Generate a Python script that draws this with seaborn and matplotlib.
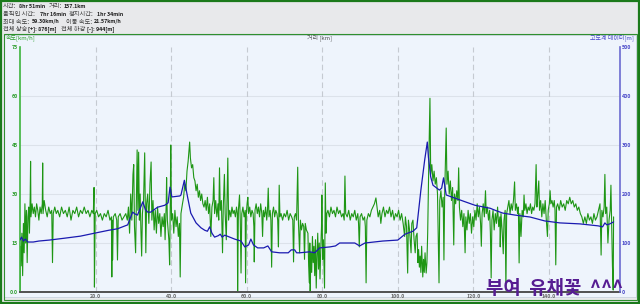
import matplotlib
matplotlib.use('Agg')
import matplotlib.pyplot as plt
import seaborn as sns
import pandas as pd
from matplotlib.patches import Rectangle

# ---------------- data ----------------
speed_dist_km = [
    0.0, 0.1, 0.3, 0.5, 0.7, 0.9, 1.1, 1.3, 1.5, 1.7, 1.9, 2.1, 2.3, 2.5, 2.7, 2.8, 2.9, 3.2, 3.5, 3.8,
    4.1, 4.4, 4.7, 5.0, 5.3, 5.6, 5.9, 6.0, 6.1, 6.4, 6.8, 7.2, 7.6, 8.0, 8.4, 8.6, 8.8, 9.2, 9.6, 10.0,
    10.5, 11.0, 11.5, 12.0, 12.5, 13.0, 13.5, 14.0, 14.5, 15.0, 15.5, 16.0, 16.5, 17.0, 17.5, 18.0, 18.5, 19.0, 19.4, 19.6, 19.7, 19.9,
    20.3, 20.8, 21.3, 21.8, 22.3, 22.8, 23.3, 23.8, 24.2, 24.3, 24.4, 24.5, 24.7, 25.2, 25.6, 25.8, 26.0, 26.5, 27.0, 27.5, 28.0, 28.4,
    28.7, 29.0, 29.3, 29.6, 29.9, 30.1, 30.3, 30.6, 30.8, 31.0, 31.2, 31.4, 31.6, 31.8, 32.0, 32.2, 32.4, 32.7, 33.0, 33.2, 33.3, 33.5,
    33.8, 34.1, 34.4, 34.7, 34.9, 35.2, 35.5, 35.8, 36.1, 36.4, 36.7, 37.0, 37.3, 37.6, 37.9, 38.2, 38.4, 38.7, 38.8, 39.0, 39.4, 39.6, 39.8, 39.9, 40.1,
    40.4, 40.7, 41.0, 41.3, 41.6, 41.9, 42.2, 42.4, 42.6, 43.0, 43.3, 43.6, 43.9, 44.2, 44.5, 44.7, 44.9, 45.1,
    45.4, 45.7, 46.0, 46.3, 46.6, 46.9, 47.2, 47.5, 47.8, 48.1, 48.4, 48.7, 49.0,
    49.3, 49.6, 49.9, 50.2, 50.5, 50.8, 51.1, 51.3, 51.5, 51.8, 52.1, 52.4, 52.6, 52.8, 53.0, 53.3, 53.6, 53.8, 54.1, 54.3, 54.6, 54.8, 55.0, 55.2, 55.5, 55.8, 56.1, 56.4, 56.7, 57.0, 57.3,
    57.5, 57.6, 57.8, 58.1, 58.3, 58.5, 58.7, 59.0, 59.3, 59.6, 59.7, 59.9, 60.1, 60.3, 60.5, 60.8, 61.1, 61.4, 61.7, 61.9, 62.0, 62.2, 62.5, 62.8,
    63.1, 63.4, 63.7, 64.0, 64.2, 64.4, 64.7, 65.0, 65.3, 65.5, 65.7, 65.9, 66.2, 66.4, 66.6, 66.8, 67.1, 67.4, 67.7, 68.0, 68.2, 68.4, 68.5, 68.6, 68.8,
    69.1, 69.5, 69.9, 70.3, 70.7, 71.1, 71.5, 71.9, 72.2, 72.4, 72.6, 72.9, 73.2, 73.5, 73.7, 74.0, 74.2, 74.5, 74.8, 75.1, 75.3, 75.5, 75.8,
    76.2, 76.4, 76.6, 76.7, 76.8, 77.0, 77.2, 77.4, 77.6, 77.8, 78.0, 78.2, 78.4, 78.6, 78.8, 79.0, 79.2, 79.4, 79.6, 79.8, 79.9, 80.1, 80.3, 80.5, 80.6, 80.8, 81.0, 81.2,
    81.5, 81.9, 82.3, 82.7, 83.1, 83.5, 83.9, 84.3, 84.7, 85.1, 85.5, 85.8, 86.0, 86.2, 86.6, 87.0, 87.4, 87.8, 88.2, 88.6, 89.0, 89.4, 89.6, 89.8, 90.0,
    90.4, 90.8, 91.2, 91.4, 91.6, 91.8, 92.2, 92.6, 93.0, 93.4, 93.8, 94.2, 94.5, 94.8, 95.2, 95.5, 95.8,
    96.2, 96.6, 97.0, 97.4, 97.8, 98.2, 98.6, 99.0, 99.4, 99.8, 100.2, 100.6, 101.0, 101.4, 101.8, 102.0, 102.3, 102.6, 102.8, 103.1,
    103.5, 103.7, 104.0, 104.3, 104.6, 104.8, 105.1, 105.3, 105.5, 105.7, 105.9, 106.1, 106.3, 106.6, 106.8, 107.0, 107.2, 107.5, 107.7, 107.9,
    108.2, 108.5, 108.7, 109.0, 109.3, 109.6, 109.9, 110.2, 110.5, 110.9, 111.1, 111.4, 111.7, 112.0, 112.2, 112.4, 112.8, 113.0, 113.3, 113.6,
    113.9, 114.2, 114.5, 114.8, 115.0, 115.3, 115.6, 115.9, 116.1, 116.3,
    116.6, 116.9, 117.2, 117.5, 117.8, 118.0, 118.3, 118.6, 118.9, 119.2, 119.5, 119.8, 120.1, 120.4, 120.7, 121.0, 121.3, 121.6, 121.9, 122.1,
    122.3, 122.6, 122.9, 123.2, 123.4, 123.7, 124.0, 124.3, 124.5, 124.7, 124.9, 125.2, 125.5, 125.8, 126.1, 126.4, 126.7, 127.0, 127.1, 127.3,
    127.6, 127.9, 128.1, 128.4, 128.6, 128.8,
    129.1, 129.4, 129.7, 130.0, 130.3, 130.6, 130.9, 131.1, 131.4, 131.7, 131.9, 132.1, 132.3, 132.6, 132.9, 133.2, 133.4, 133.6, 133.9, 134.2,
    134.5, 134.8, 135.1, 135.4, 135.7, 136.0, 136.3, 136.6, 136.8, 137.0, 137.3, 137.5, 137.8, 138.1, 138.4, 138.7, 139.0, 139.3, 139.6, 139.8,
    140.1, 140.3, 140.5, 140.8, 141.1, 141.4, 141.6, 141.8, 142.0,
    142.3, 142.7, 143.1, 143.5, 143.9, 144.3, 144.7, 145.1, 145.5, 145.9, 146.3, 146.7, 147.1, 147.5, 147.9, 148.3, 148.7, 149.1, 149.5, 149.9,
    150.3, 150.7, 151.1, 151.5, 151.9, 152.3, 152.7, 153.1, 153.5, 153.8, 154.0, 154.3, 154.6, 154.8, 155.0, 155.3, 155.6, 155.9, 156.2, 156.4,
    156.6, 156.8, 157.0, 157.1,
]
speed_kmh = [
    0, 14, 8, 18, 5, 21, 12, 27, 15, 25, 9, 23, 26, 18, 29, 40, 23, 27, 24, 26,
    23, 27, 25, 22, 26, 24, 27, 39.5, 24, 28, 25, 23, 26, 24, 25, 9, 24, 26, 24, 25,
    23, 26, 24, 25, 23, 26, 22, 25, 24, 26, 23, 25, 24, 26, 24, 25, 23, 25, 24, 32, 1.5, 24,
    25, 23, 24, 22, 24, 23, 25, 22, 23, 4.6, 22, 9.8, 23, 24, 22, 9.8, 23, 24, 22, 23, 24, 22,
    26, 18, 30, 22, 36, 39, 20, 12, 28, 43.5, 25, 42.8, 22, 30, 19, 11, 24, 28, 42.6, 20, 12, 27,
    30, 21, 33, 39.8, 22, 28, 19, 25, 18, 26, 21, 24, 17, 23, 20, 24, 16, 27, 35, 22, 16, 8.3, 30, 45, 22,
    24, 18, 25, 20, 23, 17, 21, 4.6, 24, 27, 29, 33, 31, 37, 40, 43, 45.9, 41,
    38, 39, 35, 34, 31, 33, 29, 31, 28, 30, 27, 26, 28,
    25, 29, 24, 27, 17, 26, 28, 35, 24, 28, 23, 27, 22, 38, 25, 28, 12, 26, 36, 24, 16, 28, 41, 22, 25, 23, 26, 24, 25, 23, 26,
    24, 0, 25, 29.7, 22, 5.8, 24, 26, 23, 25, 2.8, 24, 27, 29, 24, 26, 23, 25, 24, 20, 9.2, 25, 27, 24,
    26, 23, 27, 24, 17, 25, 23, 26, 22, 25, 31.8, 23, 25, 22, 7.6, 24, 26, 23, 25, 24, 22, 13.8, 24, 32.7, 23,
    24, 22, 24, 23, 25, 22, 24, 23, 22, 9.2, 23, 24, 22, 38.2, 21, 12, 22, 19, 21, 20, 10, 21, 19,
    18, 8, 2.8, 15, 0, 12, 6, 17, 9, 14, 5, 16, 1.2, 11, 18, 7, 15, 4, 13, 20, 29.7, 10, 16, 6, 1.2, 33.4, 18, 24,
    25, 23, 26, 24, 25, 23, 26, 24, 25, 23, 24, 22, 35.5, 24, 23, 25, 22, 24, 23, 25, 22, 24, 21, 13.8, 23,
    24, 22, 23, 20, 2.8, 22, 24, 23, 25, 26, 27, 28.8, 26, 23, 25, 21, 24,
    26, 23, 25, 24, 26, 23, 25, 22, 24, 23, 25, 22, 24, 21, 17, 23, 20, 5.8, 22, 19,
    12, 21, 22, 16, 12, 17, 18, 9, 13, 7.6, 11, 6, 14, 4.6, 10, 6, 12, 5.8, 9, 18,
    40, 59.3, 36, 39, 34, 37, 33, 35, 30, 2.8, 28, 31, 26, 29, 9.8, 30, 50.2, 33, 37, 30,
    34, 28, 32, 14.4, 30, 27, 31, 28, 38, 26,
    22, 25, 20, 24, 12, 23, 19, 25, 21, 24, 18, 23, 20, 25, 22, 27, 23, 26, 21, 14,
    24, 27, 23, 31, 24, 26, 22, 25, 18, 4.3, 22, 25, 19, 24, 21, 26, 20, 23, 13.8, 24,
    19, 11.7, 22, 25, 0.6, 24,
    26, 28, 24, 27, 25, 28, 33.7, 25, 27, 24, 26, 8.9, 24, 17, 25, 23, 29.7, 25, 27, 24,
    26, 25, 27, 24, 26, 25, 27, 39, 26, 29, 34, 25, 28, 23, 27, 24, 28, 22, 17, 25,
    27, 31, 27, 28, 26, 28, 25, 8.3, 26,
    27, 25, 28, 26, 27, 25, 28, 27, 29, 27, 28, 26, 27, 25, 26, 24, 23, 21, 23, 21,
    24, 22, 23, 21, 24, 22, 23, 25, 27, 11.3, 25, 23, 26, 36, 24, 26, 15, 22, 25, 32.7,
    20, 8, 0.6, 23,
]

elev_dist_km = [
    0.0, 0.4, 0.9, 1.4, 2.1, 3.5, 5.0, 7.8, 12.0, 16.0, 19.7, 23.5, 25.8, 28.5, 29.8, 30.5, 31.1, 32.5, 33.2, 33.8,
    34.6, 35.5, 36.4, 38.3, 39.2, 39.7, 40.2, 42.3, 42.6, 43.5, 44.4, 45.2, 46.6, 47.9, 48.9, 49.6, 50.2, 50.8, 51.5, 52.5,
    53.0, 53.5, 54.2, 55.5, 56.8, 58.5, 59.5, 60.5, 61.1, 61.8, 62.9, 64.5, 65.6, 66.6, 68.7, 71.0, 71.8, 72.7, 73.2, 74.0,
    76.7, 78.0, 79.3, 82.0, 83.5, 84.6, 88.6, 89.9, 91.3, 96.0, 100.0, 101.9, 104.0, 105.0, 106.1, 107.1, 107.8, 108.1, 108.7, 109.3,
    111.0, 111.6, 112.1, 112.8, 116.4, 120.4, 123.0, 124.4, 126.0, 127.8, 131.0, 135.0, 138.9, 142.9, 148.2, 153.0, 154.2, 154.8, 155.3, 156.1,
    157.1,
]
elev_m = [
    106, 112, 104, 108, 102, 102, 104, 106, 110, 114, 120, 126, 129, 137, 163, 159, 157, 184, 168, 163,
    163, 168, 173, 177, 182, 214, 194, 196, 198, 228, 192, 161, 141, 131, 126, 124, 133, 120, 112, 115,
    118, 112, 116, 112, 108, 104, 92, 96, 108, 96, 90, 90, 94, 82, 80, 80, 86, 86, 80, 80,
    82, 80, 90, 92, 94, 100, 100, 94, 100, 104, 106, 118, 124, 131, 208, 269, 306, 275, 235, 218,
    208, 212, 233, 198, 188, 177, 173, 171, 166, 161, 157, 153, 145, 141, 139, 135, 133, 141, 137, 139,
    143,
]

x_ticks = [20, 40, 60, 80, 100, 120, 140]
x_tick_labels = ['20.0', '40.0', '60.0', '80.0', '100.0', '120.0', '140.0']
speed_ticks = [0, 15, 30, 45, 60, 75]
speed_tick_labels = ['0.0', '15', '30', '45', '60', '75']
elev_ticks = [0, 100, 200, 300, 400, 500]
elev_tick_labels = ['0', '100', '200', '300', '400', '500']

header_rows = [
    [("시간:", 2, False), ("8hr 51min", 18, True), ("거리:", 48, False), ("157.1km", 63, True)],
    [("움직인 시간:", 2, False), ("7hr 16min", 39, True), ("정지시간:", 68, False), ("1hr 34min", 96, True)],
    [("최대 속도:", 2, False), ("59.30km/h", 31, True), ("이동 속도:", 65, False), ("21.57km/h", 93, True)],
    [("전체 상승", 2, False), ("[+]: 876[m]", 27, True), ("전체 하강", 60, False), ("[-]: 944[m]", 86, True)],
]

# ---------------- style ----------------
sns.set_style('white')
plt.rcParams['font.family'] = ['Noto Sans CJK KR', 'DejaVu Sans']

W, H = 640, 304
fig = plt.figure(figsize=(W / 100, H / 100), dpi=100)
fig.patch.set_facecolor('#E8E9EB')

def fx(px):
    return px / W

def fy(py):
    return 1 - py / H

# plot panel background (behind the axes)
fig.patches.append(Rectangle((fx(4), fy(297)), fx(632), (297 - 35) / H, transform=fig.transFigure,
                             facecolor='#EEF4FC', edgecolor='#C9D3DE', linewidth=0.6, zorder=-10))
# green frames: outer one round the whole image, inner one round the chart panel
fig.patches.append(Rectangle((fx(0.8), fy(303.2)), fx(638.4), 302.4 / H, transform=fig.transFigure,
                             facecolor='none', edgecolor='#1B7A1B', linewidth=1.6, zorder=10))
fig.patches.append(Rectangle((fx(3.5), fy(299.5)), fx(633), (299.5 - 34) / H, transform=fig.transFigure,
                             facecolor='none', edgecolor='#2F8F2F', linewidth=0.8, zorder=10))

# header texts
row_y = [6.5, 14, 21.5, 29]
for row, yy in zip(header_rows, row_y):
    for txt, xx, bold in row:
        fig.text(fx(xx + 1), fy(yy), txt, fontsize=3.8 if bold else 4.5,
                 fontweight='bold' if bold else 'normal',
                 color='#1E1E1E' if bold else '#3C3C3C', va='center', ha='left')

# axes
ax = fig.add_axes([fx(20), fy(292), fx(600), 245 / H])
ax.set_facecolor('none')

speed_df = pd.DataFrame({'dist': speed_dist_km, 'speed': speed_kmh})
elev_df = pd.DataFrame({'dist': elev_dist_km, 'elev': elev_m})

x_max = 158.8
# grid lines
for t in speed_ticks[1:-1]:
    ax.axhline(t, color='#DCE2EA', linewidth=0.8, zorder=0)
for t in x_ticks:
    ax.axvline(t, color='#C5CAD1', linewidth=0.8, dashes=(5, 3), zorder=0)

sns.lineplot(data=speed_df, x='dist', y='speed', ax=ax, color='#1E9614', linewidth=0.8,
             estimator=None, sort=False)
ax.set_xlim(0, x_max)
ax.set_ylim(0, 75)

ax2 = ax.twinx()
sns.lineplot(data=elev_df, x='dist', y='elev', ax=ax2, color='#1A1AB0', linewidth=0.9,
             estimator=None, sort=False)
ax2.set_ylim(0, 500)
ax2.set_xlim(0, x_max)

for a in (ax, ax2):
    a.set_xlabel('')
    a.set_ylabel('')
    a.spines['top'].set_visible(False)

ax.set_xticks(x_ticks)
ax.set_xticklabels(x_tick_labels)
ax.set_yticks(speed_ticks)
ax.set_yticklabels(speed_tick_labels)
ax2.set_yticks(elev_ticks)
ax2.set_yticklabels(elev_tick_labels)

ax.tick_params(axis='x', length=0, pad=1.5, labelsize=3.8, labelcolor='#666666')
ax.tick_params(axis='y', length=0, pad=1.5, labelsize=3.8, labelcolor='#2E9E2E')
ax2.tick_params(axis='y', length=0, pad=1.5, labelsize=3.8, labelcolor='#4848C8')
for lab in ax.get_xticklabels() + ax.get_yticklabels() + ax2.get_yticklabels():
    lab.set_fontweight('bold')

ax.spines['left'].set_color('#3DB43D')
ax.spines['left'].set_linewidth(1.2)
ax.spines['right'].set_visible(False)
ax.spines['bottom'].set_color('#505050')
ax.spines['bottom'].set_linewidth(1.4)
ax2.spines['left'].set_visible(False)
ax2.spines['bottom'].set_visible(False)
ax2.spines['right'].set_color('#6B6BD0')
ax2.spines['right'].set_linewidth(1.2)

# axis titles
fig.text(fx(6), fy(38), '속도[km/h]', fontsize=4.3, color='#2EA02E', ha='left', va='center')
fig.text(fx(320), fy(38), '거리 [km]', fontsize=4.3, color='#555555', ha='center', va='center')
fig.text(fx(634), fy(38), '고도계 데이터[m]', fontsize=4.3, color='#4545C8', ha='right', va='center')

# watermark
fig.text(fx(555), fy(288), '부여  유채꽃  ^^^', fontsize=13.6, fontweight='bold', color='#561C92',
         ha='center', va='center', zorder=20)

fig.savefig('out.png', dpi=100, facecolor=fig.get_facecolor())
